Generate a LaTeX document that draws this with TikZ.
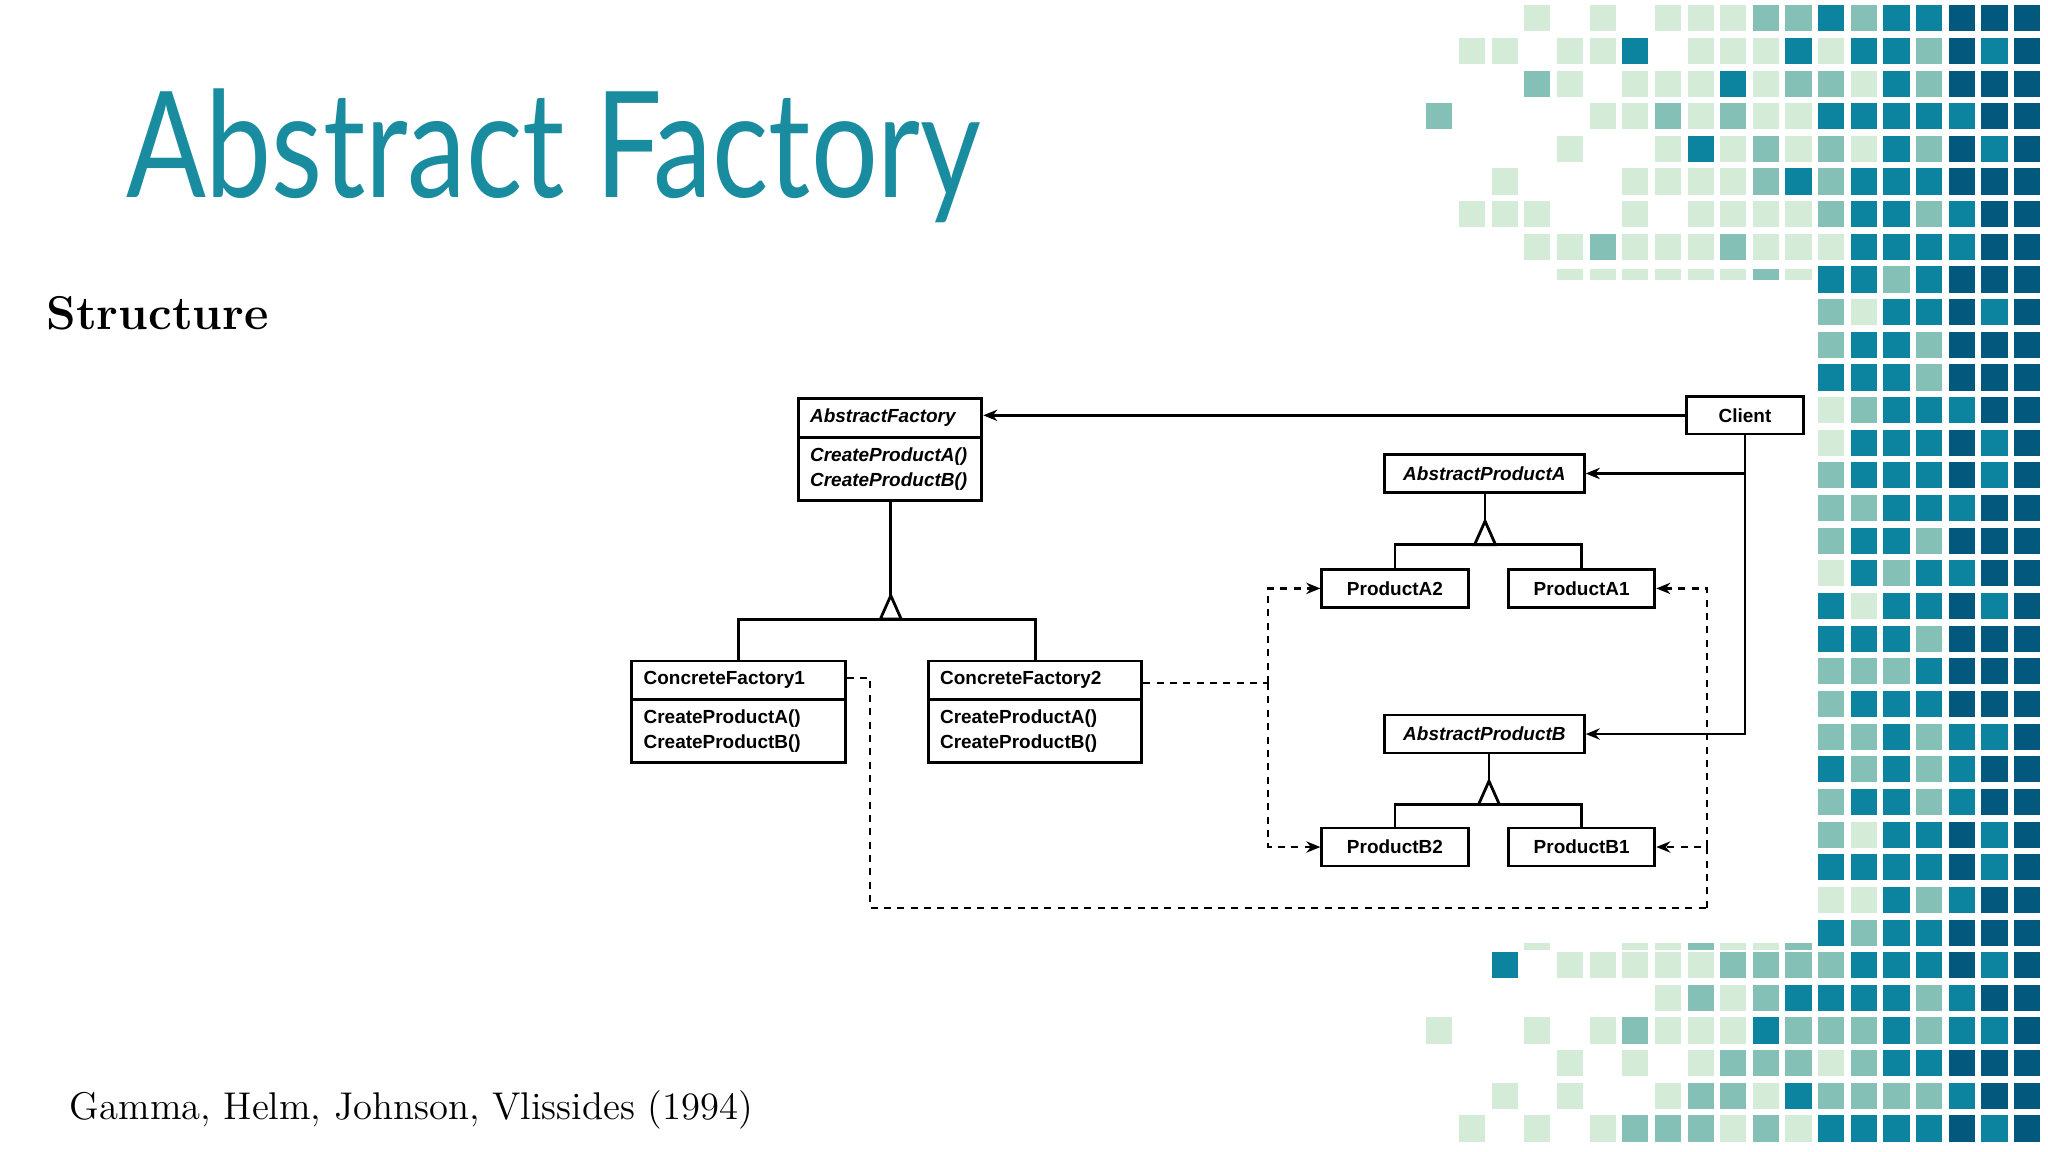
\documentclass[tikz,border=0pt]{standalone}
\usepackage{fontspec}
\usepackage{tikz}
\usetikzlibrary{shapes.multipart}
\usetikzlibrary{arrows.meta}
\usetikzlibrary{calc}
\newfontfamily\titlefont{Lato}[FakeStretch=0.8]
\newfontfamily\umlfont{Liberation Sans}
\definecolor{L}{HTML}{D4EBD8}
\definecolor{M}{HTML}{84C0B5}
\definecolor{T}{HTML}{0C84A0}
\definecolor{D}{HTML}{03587E}
\definecolor{titleblue}{HTML}{1A8CA0}
\def\blank{N}

\begin{document}
\begin{tikzpicture}[x=0.013061cm, y=-0.013061cm,
	cls/.style = {rectangle split, rectangle split parts=2, draw, line width=0.8pt,
		font=\umlfont\bfseries\fontsize{5.4}{7}\selectfont, align=left, inner ysep=2.6pt},
	box/.style = {rectangle, draw, line width=0.8pt, minimum height=0.38cm,
		font=\umlfont\bfseries\fontsize{5.4}{7}\selectfont},
	arr/.style = {-{Stealth[length=4pt, width=3.2pt]}},
	dep/.style = {dash pattern=on 2pt off 1.8pt, line width=0.7pt},
	solid line/.style = {line width=0.8pt}]
			\useasboundingbox (0,0) rectangle (1568,882);
			
			% mosaic
			\foreach \r/\o/\cells in {
				0/0/{N,N,N,L,N,L,N,L,L,L,M,M,T,M,T,T,D,D,D},
				1/0/{N,L,L,N,L,L,T,N,L,L,L,T,L,T,T,M,D,T,D},
				2/0/{N,N,N,M,L,N,L,L,L,T,L,M,M,L,T,M,D,D,D},
				3/0/{M,N,N,N,N,L,L,M,L,M,L,L,T,T,T,T,T,D,D},
				4/0/{N,N,N,N,L,N,N,L,T,L,M,L,M,L,T,M,D,T,D},
				5/0/{N,N,L,N,N,N,L,L,L,L,M,T,M,T,T,T,D,D,D},
				6/0/{N,L,L,L,N,N,L,N,L,L,L,L,M,T,T,M,T,D,D},
				7/0/{N,N,N,L,L,M,L,L,L,M,L,L,L,T,T,T,T,D,D},
				8/12/{T,T,M,T,D,D,D},
				9/12/{M,L,T,T,D,T,D},
				10/12/{M,T,T,M,D,D,D},
				11/12/{T,T,T,M,D,D,D},
				12/12/{L,M,T,T,T,D,D},
				13/12/{L,T,T,T,D,T,D},
				14/12/{M,T,T,T,D,T,D},
				15/12/{M,M,T,T,T,D,D},
				16/12/{M,T,T,M,D,D,D},
				17/12/{L,T,M,T,T,D,D},
				18/12/{T,L,T,T,D,T,D},
				19/12/{T,T,T,M,D,D,D},
				20/12/{M,M,M,T,D,D,D},
				21/12/{M,T,T,T,D,D,D},
				22/12/{M,M,T,M,T,T,D},
				23/12/{T,M,T,M,T,D,D},
				24/12/{M,T,T,M,T,D,D},
				25/12/{M,L,T,T,D,T,D},
				26/12/{T,T,T,T,D,T,D},
				27/12/{L,L,T,M,T,D,D},
				28/12/{T,M,T,T,D,D,D},
				29/0/{N,N,T,N,L,L,L,L,L,M,M,M,M,T,T,T,D,T,D},
				30/0/{N,N,N,N,N,N,N,L,M,L,M,T,T,T,T,M,T,D,D},
				31/0/{L,N,N,L,N,L,M,L,L,L,T,M,M,M,T,M,T,T,D},
				32/0/{N,N,N,N,L,N,L,N,L,M,M,M,L,M,T,T,D,D,D},
				33/0/{N,N,L,N,L,N,N,L,M,M,L,T,M,M,M,M,T,D,D},
				34/0/{N,L,N,L,N,L,M,M,M,L,M,L,T,T,T,T,D,T,D}}
			\foreach \c [count=\k from \o] in \cells {
				\ifx\c\blank\else
				\fill[\c] ({1092+25*\k},{4+25*\r}) rectangle ++(20,20);
				\fi};
			% thin strips
			\foreach \k/\c in {4/L,5/L,6/L,7/L,8/L,9/L,10/M,11/L}
			\fill[\c] ({1092+25*\k},206) rectangle ++(20,8);
			\foreach \k/\c in {3/L,6/L,7/L,8/M,9/L,10/L,11/M}
			\fill[\c] ({1092+25*\k},722) rectangle ++(20,5);
			
			% texts
			\node (title) [anchor=base west, inner sep=0pt, text=titleblue,
			font=\titlefont\fontsize{42}{48}\selectfont] at (96,151) {Abstract Factory};
			\node (struct) [anchor=base west, inner sep=0pt,
			font=\bfseries\fontsize{13.5}{16}\selectfont] at (35,252) {Structure};
			\node (cite) [anchor=base west, inner sep=0pt,
			font=\fontsize{11}{14}\selectfont] at (53,857) {Gamma, Helm, Johnson, Vlissides (1994)};
			
			% classes
			\node (af) [cls, anchor=north, minimum width=1.816cm, text width=1.6cm] at (681.5,304)
			{\itshape AbstractFactory \nodepart{two} \itshape CreateProductA()\\ \itshape CreateProductB()};
			\node (cf1) [cls, anchor=north, minimum width=2.129cm, text width=1.9cm] at (565.5,505)
			{ConcreteFactory1 \nodepart{two} CreateProductA()\\ CreateProductB()};
			\node (cf2) [cls, anchor=north, minimum width=2.129cm, text width=1.9cm] at (792.5,505)
			{ConcreteFactory2 \nodepart{two} CreateProductA()\\ CreateProductB()};
			\node (client) [box, minimum width=1.175cm, minimum height=0.366cm] at (1336,318) {Client};
			\node (apa) [box, minimum width=1.998cm, font=\umlfont\bfseries\itshape\fontsize{5.4}{7}\selectfont] at (1136.5,362.5) {AbstractProductA};
			\node (pa2) [box, minimum width=1.463cm] at (1068,450.5) {ProductA2};
			\node (pa1) [box, minimum width=1.463cm] at (1211,450.5) {ProductA1};
			\node (apb) [box, minimum width=1.998cm, font=\umlfont\bfseries\itshape\fontsize{5.4}{7}\selectfont] at (1136.5,562) {AbstractProductB};
			\node (pb2) [box, minimum width=1.463cm] at (1068,648.5) {ProductB2};
			\node (pb1) [box, minimum width=1.463cm] at (1211,648.5) {ProductB1};
			
			% inheritance
			\coordinate (t1) at (682,456);
			\coordinate (t2) at (1137,399);
			\coordinate (t3) at (1140,598);
			\foreach \t/\top/\a/\b in {t1/af/cf1/cf2, t2/apa/pa2/pa1, t3/apb/pb2/pb1} {
				\draw[solid line] (\top.south -| \t) -- (\t);
				\draw[solid line] (\t) -- ++(-8,18) -- ++(16,0) -- cycle;
				\draw[solid line] (\a.north) |- ($(\t)+(0,18)$) -| (\b.north);
			}
			
			% client
			\draw[solid line, arr] (client.west) -- (client.west -| af.east);
			\draw[solid line, arr] (client.south) |- (apb.east);
			\draw[solid line, arr] (client.south |- apa.east) -- (apa.east);
			
			% creates
			\coordinate (jb) at (971,523);
			\coordinate (ja) at (666,695);
			\coordinate (jc) at (1307,695);
			\draw[dep] ($(cf2.north east)+(0,18)$) -- (jb);
			\draw[dep, arr] (jb) |- (pa2.west);
			\draw[dep, arr] (jb) |- (pb2.west);
			\draw[dep] ($(cf1.north east)+(0,14)$) -| (ja) -- (jc);
			\draw[dep, arr] (jc) |- (pb1.east);
			\draw[dep, arr] (pb1.east -| jc) |- (pa1.east);
			
\end{tikzpicture}
\end{document}
